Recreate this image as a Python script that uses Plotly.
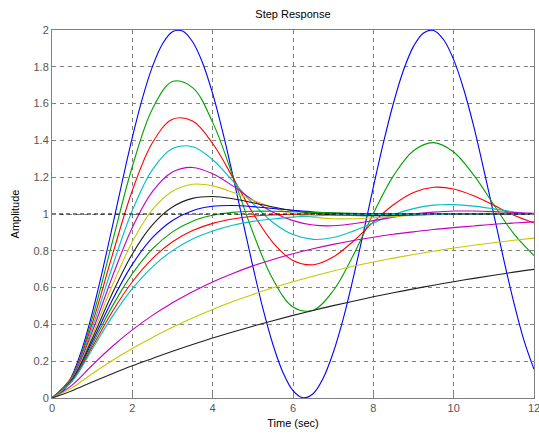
import plotly.graph_objects as go

# Sample instants (s)
time_s = [0, 0.5, 1, 1.5, 2, 2.5, 3, 3.5, 4, 4.5, 5, 5.5, 6, 6.5, 7, 7.5,
          8, 8.5, 9, 9.5, 10, 10.5, 11, 11.5, 12]
# Finer sampling for the undamped (zeta = 0) oscillation
time_fine = [0, 0.25, 0.5, 0.75, 1, 1.25, 1.5, 1.75, 2, 2.25, 2.5, 2.75, 3, 3.25,
             3.5, 3.75, 4, 4.25, 4.5, 4.75, 5, 5.25, 5.5, 5.75, 6, 6.25, 6.5, 6.75,
             7, 7.25, 7.5, 7.75, 8, 8.25, 8.5, 8.75, 9, 9.25, 9.5, 9.75, 10, 10.25,
             10.5, 10.75, 11, 11.25, 11.5, 11.75, 12]

# Step responses of a unit-frequency second-order system, one per damping ratio
zeta_0_0 = [0, 0.031, 0.122, 0.268, 0.460, 0.685, 0.929, 1.178, 1.416, 1.628, 1.801,
            1.924, 1.990, 1.994, 1.936, 1.821, 1.654, 1.446, 1.211, 0.962, 0.716,
            0.487, 0.291, 0.139, 0.040, 0.001, 0.023, 0.107, 0.246, 0.430, 0.653,
            0.896, 1.146, 1.386, 1.602, 1.781, 1.911, 1.984, 1.997, 1.947, 1.839,
            1.678, 1.476, 1.241, 0.996, 0.749, 0.517, 0.313, 0.156]
zeta_0_1 = [0, 0.118, 0.431, 0.846, 1.258, 1.571, 1.720, 1.687, 1.498, 1.209, 0.901,
            0.645, 0.495, 0.477, 0.583, 0.776, 1.003, 1.207, 1.344, 1.388, 1.337,
            1.211, 1.050, 0.892, 0.774]
zeta_0_2 = [0, 0.115, 0.405, 0.775, 1.128, 1.387, 1.515, 1.505, 1.383, 1.199, 1.005,
            0.845, 0.747, 0.724, 0.766, 0.852, 0.956, 1.050, 1.117, 1.145, 1.136,
            1.099, 1.047, 0.993, 0.951]
zeta_0_3 = [0, 0.111, 0.381, 0.712, 1.019, 1.241, 1.356, 1.365, 1.295, 1.180, 1.057,
            0.954, 0.888, 0.862, 0.872, 0.907, 0.952, 0.996, 1.029, 1.048, 1.051,
            1.043, 1.028, 1.011, 0.996]
zeta_0_4 = [0, 0.108, 0.360, 0.658, 0.927, 1.122, 1.228, 1.253, 1.219, 1.153, 1.076,
            1.010, 0.964, 0.940, 0.936, 0.947, 0.964, 0.983, 1.000, 1.010, 1.016,
            1.016, 1.013, 1.008, 1.004]
zeta_0_5 = [0, 0.104, 0.340, 0.611, 0.849, 1.024, 1.124, 1.162, 1.153, 1.118, 1.075,
            1.034, 1.002, 0.983, 0.974, 0.974, 0.979, 0.986, 0.993, 0.998, 1.002,
            1.003, 1.004, 1.003, 1.002]
zeta_0_6 = [0, 0.101, 0.322, 0.568, 0.783, 0.941, 1.038, 1.085, 1.095, 1.083, 1.061,
            1.038, 1.018, 1.004, 0.995, 0.992, 0.991, 0.992, 0.995, 0.997, 0.999,
            1.000, 1.000, 1.001, 1.001]
zeta_0_7 = [0, 0.098, 0.306, 0.531, 0.726, 0.871, 0.965, 1.018, 1.042, 1.046, 1.040,
            1.030, 1.020, 1.011, 1.005, 1.001, 0.999, 0.999, 0.999, 0.999, 1.000,
            1.000, 1.000, 1.000, 1.000]
zeta_0_8 = [0, 0.096, 0.291, 0.498, 0.676, 0.810, 0.903, 0.961, 0.993, 1.009, 1.015,
            1.015, 1.012, 1.009, 1.006, 1.004, 1.002, 1.001, 1.000, 1.000, 1.000,
            1.000, 1.000, 1.000, 1.000]
zeta_0_9 = [0, 0.093, 0.277, 0.469, 0.632, 0.758, 0.849, 0.910, 0.949, 0.973, 0.988,
            0.995, 0.999, 1.001, 1.001, 1.001, 1.001, 1.000, 1.000, 1.000, 1.000,
            1.000, 1.000, 1.000, 1.000]
zeta_1_0 = [0, 0.090, 0.264, 0.442, 0.594, 0.713, 0.801, 0.864, 0.908, 0.939, 0.960,
            0.973, 0.983, 0.989, 0.993, 0.995, 0.997, 0.998, 0.999, 0.999, 1.000,
            1.000, 1.000, 1.000, 1.000]
zeta_2_0 = [0, 0.070, 0.178, 0.280, 0.370, 0.449, 0.518, 0.578, 0.631, 0.677, 0.718,
            0.753, 0.784, 0.811, 0.835, 0.856, 0.874, 0.890, 0.903, 0.916, 0.926,
            0.935, 0.944, 0.951, 0.957]
zeta_3_0 = [0, 0.056, 0.132, 0.204, 0.269, 0.329, 0.384, 0.435, 0.481, 0.524, 0.563,
            0.599, 0.632, 0.662, 0.690, 0.716, 0.739, 0.760, 0.780, 0.798, 0.815,
            0.830, 0.844, 0.857, 0.869]
zeta_5_0 = [0, 0.040, 0.087, 0.132, 0.175, 0.215, 0.254, 0.291, 0.326, 0.359, 0.390,
            0.420, 0.449, 0.476, 0.502, 0.526, 0.550, 0.572, 0.593, 0.613, 0.632,
            0.650, 0.667, 0.684, 0.699]

responses = [zeta_0_0, zeta_0_1, zeta_0_2, zeta_0_3, zeta_0_4, zeta_0_5, zeta_0_6,
             zeta_0_7, zeta_0_8, zeta_0_9, zeta_1_0, zeta_2_0, zeta_3_0, zeta_5_0]
damping = ["0", "0.1", "0.2", "0.3", "0.4", "0.5", "0.6",
           "0.7", "0.8", "0.9", "1", "2", "3", "5"]

# Steady-state reference
final_value = [1, 1]
final_time = [0, 12]

# Cycling line colour order
palette = ["#0000ff", "#00a000", "#ff0000", "#00c0c0", "#c000c0", "#c8c800", "#202020"]

FONT = "Liberation Sans, Arial, sans-serif"

fig = go.Figure()

for i, (z, y) in enumerate(zip(damping, responses)):
    t = time_fine if len(y) == len(time_fine) else time_s
    fig.add_trace(go.Scatter(
        x=t, y=y, mode="lines", name=f"zeta = {z}",
        line=dict(color=palette[i % len(palette)], width=1.1, shape="spline"),
        showlegend=False,
    ))

fig.add_trace(go.Scatter(
    x=final_time, y=final_value, mode="lines",
    line=dict(color="#000000", width=1.2, dash="4px,3px"),
    showlegend=False,
))

axis_common = dict(
    showline=True, mirror="ticks", linecolor="#808080", linewidth=1,
    ticks="inside", ticklen=4, tickcolor="#808080",
    showgrid=True, gridcolor="#808080", gridwidth=1, griddash="4px,4px",
    zeroline=False, ticklabeloverflow="allow", automargin=False,
    tickfont=dict(family=FONT, size=11, color="#555555"),
)

fig.update_layout(
    width=539, height=437,
    margin=dict(l=52, r=5, t=30, b=39, autoexpand=False),
    paper_bgcolor="white", plot_bgcolor="white",
    title=dict(text="Step Response", x=0.5435, xanchor="center", y=0.968, yanchor="middle",
               font=dict(family=FONT, size=11, color="#000000")),
    xaxis=dict(range=[0, 12], tick0=0, dtick=2,
               title=dict(text="Time (sec)", standoff=6,
                          font=dict(family=FONT, size=11, color="#000000")),
               **axis_common),
    yaxis=dict(range=[0, 2], tick0=0, dtick=0.2,
               title=dict(text="Amplitude", standoff=11,
                          font=dict(family=FONT, size=11, color="#000000")),
               **axis_common),
)

fig.write_html("out.html")
